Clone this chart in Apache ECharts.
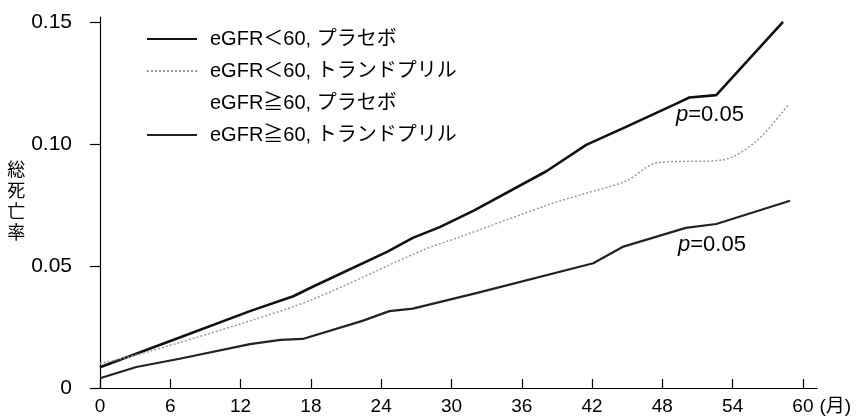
<!DOCTYPE html>
<html><head><meta charset="utf-8">
<script src="https://cdn.jsdelivr.net/npm/echarts@6/dist/echarts.min.js"></script>
<style>html,body{margin:0;padding:0;background:#fff}#c{width:863px;height:416px}</style>
</head><body><div id="c"></div>
<script>
const FONT = '"Liberation Sans", Arial, "Noto Sans CJK JP", sans-serif';
const seriesNames = ['eGFR＜60, プラセボ', 'eGFR＜60, トランドプリル', 'eGFR≧60, プラセボ', 'eGFR≧60, トランドプリル'];
const xTicks = [0, 6, 12, 18, 24, 30, 36, 42, 48, 54, 60];
const yTicks = [0, 0.05, 0.10, 0.15];

const lt60PlaceboMonths = [0, 6.8, 12.8, 16.5, 18.2, 24.5, 26.7, 29, 31.9, 38.1, 41.5, 44.9, 49.2, 50.3, 52.6, 58.3];
const lt60PlaceboValues = [0.0085, 0.0207, 0.0315, 0.0376, 0.0416, 0.0558, 0.0615, 0.0659, 0.0727, 0.0888, 0.0996, 0.107, 0.1165, 0.119, 0.120, 0.150];

const lt60TrandoMonths = [0, 4, 12.8, 18.2, 27.6, 30.5, 38.4, 41.2, 44.9, 47.5, 53.2, 56, 58.7];
const lt60TrandoValues = [0.0100, 0.0147, 0.0275, 0.0364, 0.0566, 0.0615, 0.0753, 0.0794, 0.0848, 0.0922, 0.0935, 0.101, 0.1158];

const ge60PlaceboMonths = [];
const ge60PlaceboValues = [];

const ge60TrandoMonths = [0, 3.1, 6.8, 12.8, 15.4, 17.3, 22.4, 24.7, 26.7, 32.2, 42.1, 44.6, 50, 52.6, 58.9];
const ge60TrandoValues = [0.004, 0.0086, 0.012, 0.018, 0.0197, 0.0201, 0.0275, 0.0315, 0.0325, 0.039, 0.0511, 0.0578, 0.0656, 0.0672, 0.0767];

const pLabels = ['p=0.05', 'p=0.05'];

function zip(a, b) { return a.map((m, i) => [m, b[i]]); }

const chart = echarts.init(document.getElementById('c'));
chart.setOption({
  animation: false,
  backgroundColor: '#fff',
  textStyle: { fontFamily: FONT, color: '#000' },
  grid: { left: 100, right: 46, top: 17, bottom: 23, containLabel: false },
  legend: {
    orient: 'vertical', left: 141, top: 24, itemWidth: 50, itemHeight: 14, itemGap: 12,
    itemStyle: { opacity: 0 },
    textStyle: { fontSize: 20, color: '#000', fontFamily: FONT, padding: [0, 0, 0, 8] },
    data: [
      { name: seriesNames[0] },
      { name: seriesNames[1] },
      { name: seriesNames[2], lineStyle: { opacity: 0 }, itemStyle: { opacity: 0 } },
      { name: seriesNames[3] }
    ]
  },
  xAxis: {
    type: 'value', min: 0, max: 61.2,
    name: '(月)', nameLocation: 'end', nameGap: 2,
    nameTextStyle: { fontSize: 19, color: '#000', verticalAlign: 'top', padding: [9, 0, 0, 0], fontFamily: FONT },
    axisLine: { show: true, lineStyle: { color: '#000', width: 1.2 } },
    axisTick: { show: true, inside: true, length: 9, customValues: xTicks, lineStyle: { color: '#000', width: 1.2 } },
    axisLabel: { customValues: xTicks, fontSize: 19, color: '#000', margin: 9, fontFamily: FONT },
    splitLine: { show: false }
  },
  yAxis: {
    type: 'value', min: 0, max: 0.152,
    name: '総\n死\n亡\n率', nameLocation: 'middle', nameGap: 72, nameRotate: 0,
    nameTextStyle: { fontSize: 18, color: '#000', lineHeight: 21, fontFamily: FONT, padding: [0, 0, 0, 0] },
    axisLine: { show: true, lineStyle: { color: '#000', width: 1.2 } },
    axisTick: { show: true, inside: false, length: 10, customValues: yTicks, lineStyle: { color: '#000', width: 1.2 } },
    axisLabel: { customValues: yTicks, fontSize: 21, color: '#000', margin: 28, fontFamily: FONT,
      formatter: v => v === 0 ? '0' : v.toFixed(2) },
    splitLine: { show: false }
  },
  series: [
    { name: seriesNames[0], type: 'line', symbol: 'none', data: zip(lt60PlaceboMonths, lt60PlaceboValues),
      lineStyle: { color: '#111', width: 2.6 }, itemStyle: { color: '#111' } },
    { name: seriesNames[1], type: 'line', symbol: 'none', data: zip(lt60TrandoMonths, lt60TrandoValues), smooth: 0.3,
      lineStyle: { color: '#9a9a9a', width: 1.5, type: [2, 2] }, itemStyle: { color: '#9a9a9a' } },
    { name: seriesNames[2], type: 'line', symbol: 'none', data: zip(ge60PlaceboMonths, ge60PlaceboValues),
      lineStyle: { color: '#fff', width: 0, opacity: 0 }, itemStyle: { color: '#fff', opacity: 0 } },
    { name: seriesNames[3], type: 'line', symbol: 'none', data: zip(ge60TrandoMonths, ge60TrandoValues),
      lineStyle: { color: '#222', width: 2.2 }, itemStyle: { color: '#222' } }
  ],
  graphic: [
    { type: 'text', left: 676, top: 104, style: { text: '{i|p}=0.05', rich: { i: { fontStyle: 'italic', fontSize: 22, fontFamily: FONT } }, fontSize: 22, fontFamily: FONT, fill: '#000' } },
    { type: 'text', left: 678, top: 234, style: { text: '{i|p}=0.05', rich: { i: { fontStyle: 'italic', fontSize: 22, fontFamily: FONT } }, fontSize: 22, fontFamily: FONT, fill: '#000' } }
  ]
});
</script></body></html>
